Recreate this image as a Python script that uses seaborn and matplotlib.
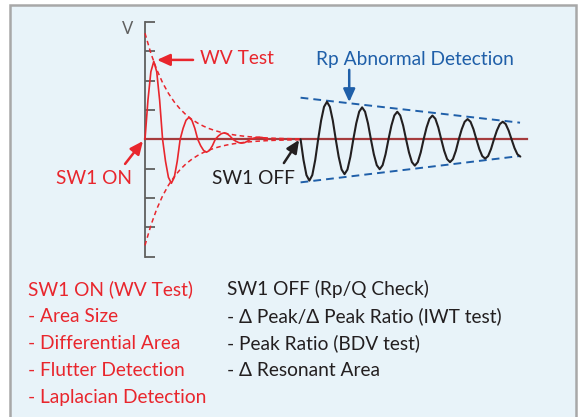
import matplotlib
matplotlib.use("Agg")
import matplotlib.pyplot as plt
from matplotlib.patches import Rectangle
import numpy as np
import seaborn as sns

# sampled waveforms (y in tick units, one sample every 0.1 time units)
STEP = 0.1
wv_start = 0.0
wv_values = [
    0, 1.33, 2.304, 2.66, 2.304, 1.33,
    0, -0.75, -1.299, -1.50, -1.299, -0.75,
    0, 0.375, 0.65, 0.75, 0.65, 0.375,
    0, -0.22, -0.381, -0.44, -0.381, -0.22,
    0, 0.11, 0.19, 0.22, 0.19, 0.11,
    0, -0.065, -0.113, -0.13, -0.113, -0.065,
    0, 0.035, 0.061, 0.07, 0.061, 0.035,
    0,
]
rp_start = 5.31
rp_values = [
    0, -0.705, -1.221, -1.41, -1.221, -0.705,
    0, 0.64, 1.108, 1.28, 1.108, 0.64,
    0, -0.595, -1.031, -1.19, -1.031, -0.595,
    0, 0.545, 0.944, 1.09, 0.944, 0.545,
    0, -0.51, -0.883, -1.02, -0.883, -0.51,
    0, 0.47, 0.814, 0.94, 0.814, 0.47,
    0, -0.45, -0.779, -0.90, -0.779, -0.45,
    0, 0.405, 0.701, 0.81, 0.701, 0.405,
    0, -0.39, -0.675, -0.78, -0.675, -0.39,
    0, 0.345, 0.598, 0.69, 0.598, 0.345,
    0, -0.33, -0.572, -0.66, -0.572, -0.33,
    0, 0.30, 0.52, 0.60, 0.52, 0.30,
    0, -0.295, -0.511, -0.59,
]
# decay envelope of the WV test (red dashed)
wv_env_t = [0, 0.2, 0.4, 0.6, 0.8, 1.0, 1.2, 1.4, 1.6, 1.8, 2.0, 2.2, 2.4,
            2.6, 2.8, 3.0, 3.2, 3.4, 3.6, 3.8, 4.0, 4.4, 4.8, 5.3]
wv_env_v = [3.62, 2.937, 2.382, 1.932, 1.568, 1.272, 1.032, 0.837, 0.679,
            0.551, 0.447, 0.362, 0.294, 0.238, 0.193, 0.157, 0.127, 0.103,
            0.084, 0.068, 0.055, 0.036, 0.024, 0.014]
# Rp envelope (blue dashed)
rp_env_t = [5.31, 12.80]
rp_env_upper = [1.42, 0.567]
rp_env_lower = [-1.47, -0.57]

v_ticks = [-4, -3, -2, -1, 0, 1, 2, 3, 4]
axis_end = 13.05

on_lines = ["SW1 ON (WV Test)", "- Area Size", "- Differential Area",
            "- Flutter Detection", "- Laplacian Detection"]
off_lines = ["SW1 OFF (Rp/Q Check)", "- \u0394 Peak/\u0394 Peak Ratio (IWT test)",
             "- Peak Ratio (BDV test)", "- \u0394 Resonant Area"]

RED = "#e8262d"
BLUE = "#1f5fa9"
DARK = "#231f20"
GREY = "#5f5f5f"
FS = 13.8

sns.set_style("white")
plt.rcParams["font.family"] = ["Lato", "DejaVu Sans"]

fig = plt.figure(figsize=(5.84, 4.17), dpi=100)
fig.add_artist(Rectangle((10 / 584, -0.02), 566 / 584, 1 - 5 / 417 + 0.02,
                         transform=fig.transFigure, facecolor="#e8f3f9",
                         edgecolor="#a8a8a8", lw=1.8, zorder=-1))
ax = fig.add_axes([0, 0, 1, 1])
ax.patch.set_alpha(0)
ax.set_xlim(-145 / 29.3, (584 - 145) / 29.3)
ax.set_ylim((139.3 - 417) / 29.3, 139.3 / 29.3)

wv_t = wv_start + STEP * np.arange(len(wv_values))
rp_t = rp_start + STEP * np.arange(len(rp_values))

sns.lineplot(x=wv_t, y=wv_values, ax=ax, color=RED, lw=1.2,
             estimator=None, sort=False, zorder=4)
sns.lineplot(x=rp_t, y=rp_values, ax=ax, color=DARK, lw=1.5,
             estimator=None, sort=False, zorder=4)
for sign in (1, -1):
    ax.plot(wv_env_t, [sign * v for v in wv_env_v], color=RED, lw=1.1,
            ls=(0, (3, 2.2)), zorder=3)
for env in (rp_env_upper, rp_env_lower):
    ax.plot(rp_env_t, env, color=BLUE, lw=1.4, ls=(0, (4, 2.6)), zorder=3)

# axes: vertical V axis with ticks pointing right, red-brown baseline
for s in ("top", "right"):
    ax.spines[s].set_visible(False)
ax.spines["left"].set_position(("data", 0))
ax.spines["left"].set_bounds(-4, 4)
ax.spines["left"].set_color(GREY)
ax.spines["left"].set_linewidth(1.3)
ax.spines["bottom"].set_position(("data", 0))
ax.spines["bottom"].set_bounds(0, axis_end)
ax.spines["bottom"].set_color("#a53b3d")
ax.spines["bottom"].set_linewidth(1.6)
ax.spines["bottom"].set_zorder(2.5)
ax.set_xticks([])
ax.set_yticks(v_ticks)
ax.set_yticklabels([])
ax.tick_params(axis="y", left=True, direction="in", length=7.5, width=1.3,
               color=GREY)

ax.text(-0.58, 3.76, "V", color=GREY, fontsize=12, ha="center", va="center")

arrow = dict(arrowstyle="-|>,head_length=0.55,head_width=0.25", lw=1.8,
             mutation_scale=14, shrinkA=0, shrinkB=0)
ax.text(1.877, 2.57, "WV Test", color=RED, fontsize=FS, va="baseline", ha="left")
ax.annotate("", xy=(0.41, 2.71), xytext=(1.64, 2.71),
            arrowprops=dict(arrow, color=RED))
ax.text(-0.44, -1.53, "SW1 ON", color=RED, fontsize=FS, ha="right", va="baseline")
ax.annotate("", xy=(-0.07, -0.06), xytext=(-0.68, -0.84),
            arrowprops=dict(arrow, color=RED))
ax.text(2.29, -1.53, "SW1 OFF", color=DARK, fontsize=FS, ha="left", va="baseline")
ax.annotate("", xy=(5.26, -0.02), xytext=(4.74, -0.81),
            arrowprops=dict(arrow, color=DARK))
ax.text(9.22, 2.54, "Rp Abnormal Detection", color=BLUE, fontsize=FS,
        ha="center", va="baseline")
ax.annotate("", xy=(6.97, 1.27), xytext=(6.97, 2.37),
            arrowprops=dict(arrow, color=BLUE))

line_y = [-5.32, -6.25, -7.16, -8.07, -9.0]
for y, txt in zip(line_y, on_lines):
    ax.text(-3.99, y, txt, color=RED, fontsize=FS, ha="left", va="baseline")
for y, txt in zip(line_y, off_lines):
    ax.text(2.80, y, txt, color=DARK, fontsize=FS, ha="left", va="baseline")

fig.savefig("out.png", dpi=100)
